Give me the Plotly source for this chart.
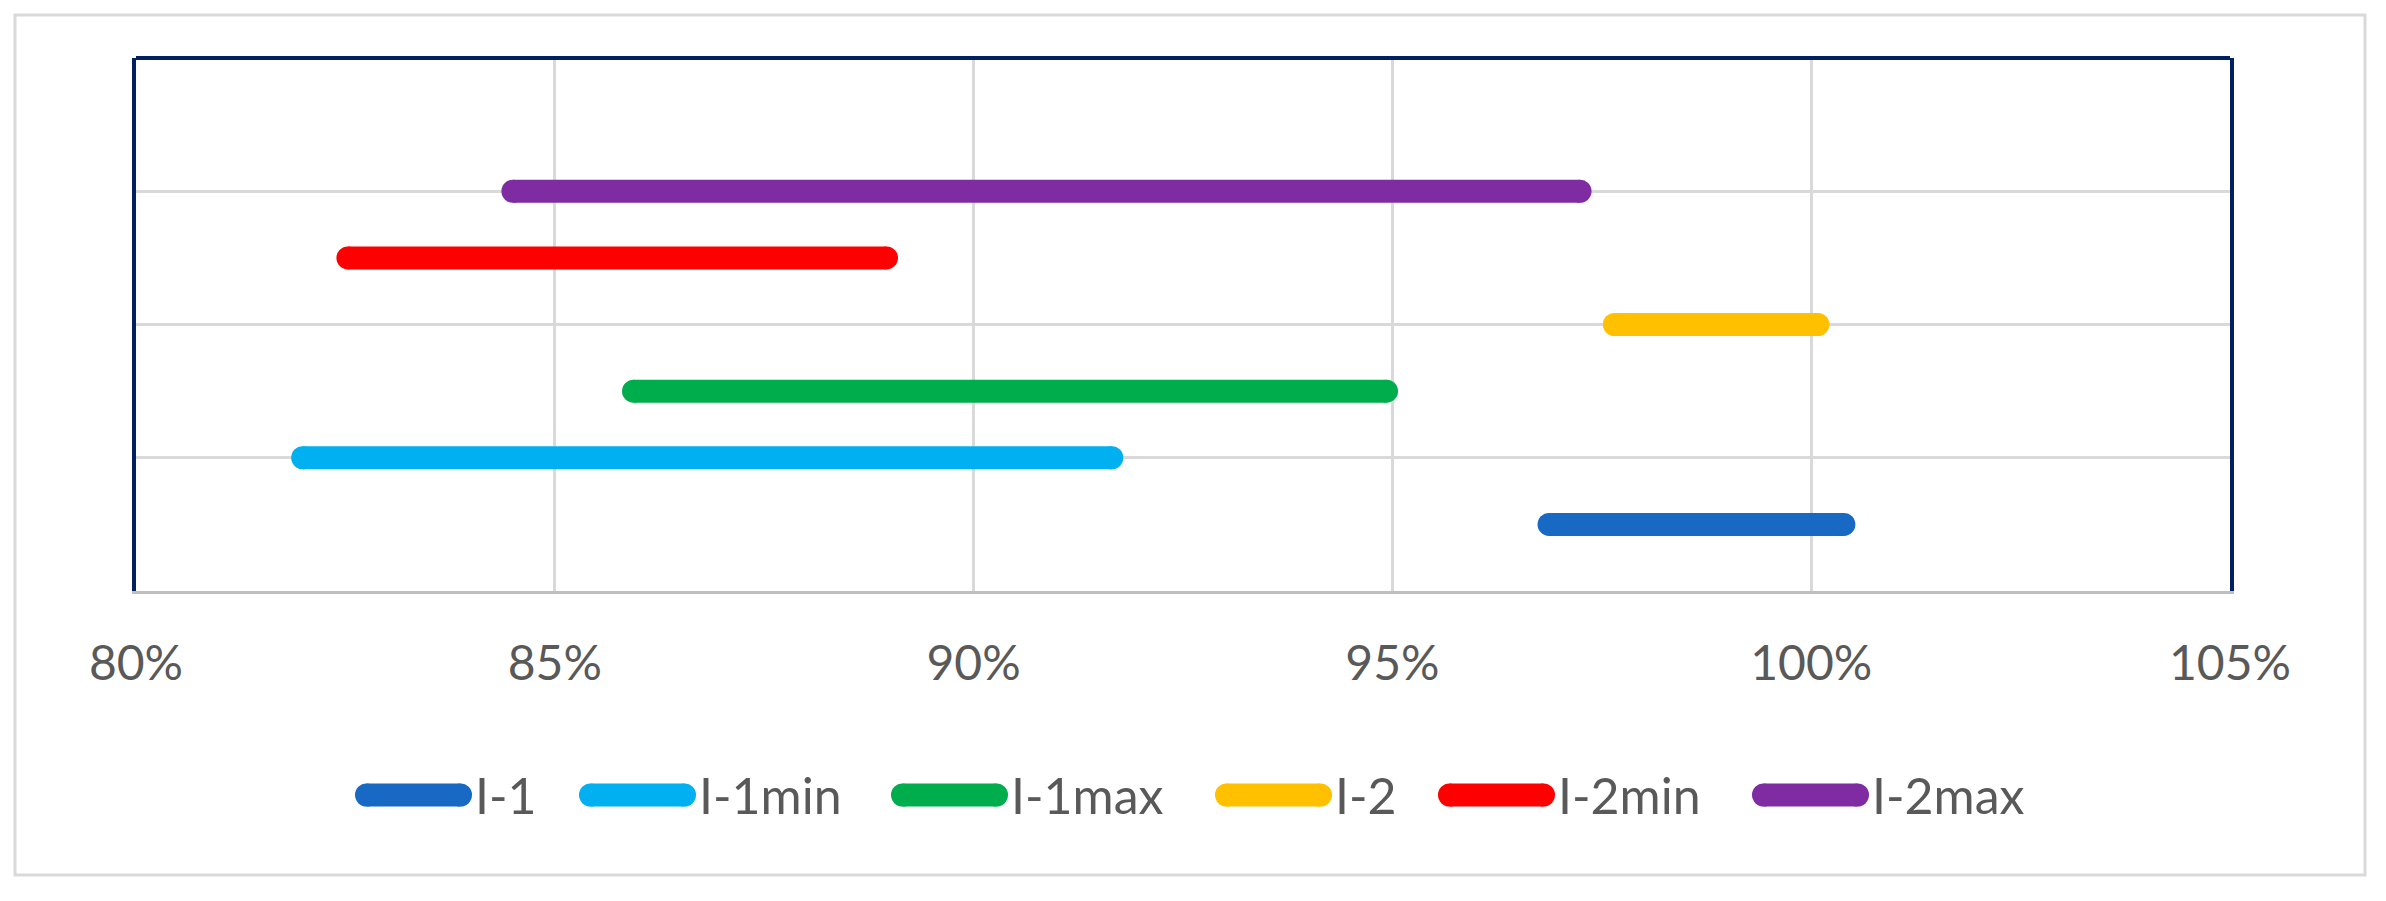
import plotly.graph_objects as go

# series: start / end of each range (fraction), and its row on the hidden y axis
series = ["I-1", "I-1min", "I-1max", "I-2", "I-2min", "I-2max"]
x_start = [0.9687, 0.8199, 0.8594, 0.9765, 0.8253, 0.8450]
x_end = [1.0039, 0.9165, 0.9493, 1.0008, 0.8896, 0.9724]
y_row = [0.5, 1.0, 1.5, 2.0, 2.5, 3.0]
colors = ["#1769C4", "#00B0F0", "#00AD4C", "#FFC000", "#FF0000", "#7F2CA2"]

W, H = 2378, 893          # page minus the 8px body margin
PL, PR, PT, PB = 128, 2222, 50, 583   # plot area in pixels

# legend layout (pixel positions of each swatch's left edge)
legend_left = [347, 571, 883, 1207, 1430, 1744]
legend_y = 787
swatch_w, swatch_h = 117, 23

fig = go.Figure()

for name, x0, x1, y, c in zip(series, x_start, x_end, y_row, colors):
    fig.add_trace(go.Scatter(
        x=[x0, x1], y=[y, y], name=name,
        mode="lines+markers",
        line=dict(color=c, width=23),
        marker=dict(color=c, size=23, line=dict(width=0)),
        hoverinfo="skip", showlegend=False,
    ))

# hand-drawn legend on an overlay axis measured in pixels
for name, lx, c in zip(series, legend_left, colors):
    r = swatch_h / 2
    fig.add_trace(go.Scatter(
        x=[lx + r, lx + swatch_w - r], y=[legend_y, legend_y],
        xaxis="x2", yaxis="y2", mode="lines+markers",
        line=dict(color=c, width=swatch_h),
        marker=dict(color=c, size=swatch_h, line=dict(width=0)),
        hoverinfo="skip", showlegend=False,
    ))
    fig.add_annotation(
        x=lx + swatch_w + 1, y=legend_y, xref="x2", yref="y2",
        text=name, showarrow=False, xanchor="left", yanchor="middle",
        font=dict(family="Lato", size=50, color="#595959"),
    )

tick_font = dict(family="Lato", size=48, color="#595959")

fig.update_layout(
    width=W, height=H, autosize=False,
    margin=dict(l=0, r=0, t=0, b=0, pad=0),
    plot_bgcolor="rgba(0,0,0,0)", paper_bgcolor="white",
    showlegend=False,
    xaxis=dict(
        domain=[PL / W, PR / W], automargin=False,
        range=[0.80, 1.05], dtick=0.05, tickformat=".0%",
        showgrid=True, gridcolor="#D9D9D9", gridwidth=2.5,
        zeroline=False, showline=True, linecolor="#BFBFBF", linewidth=3,
        ticks="outside", ticklen=28, tickcolor="rgba(0,0,0,0)",
        tickfont=tick_font, fixedrange=True,
    ),
    yaxis=dict(
        domain=[(H - PB) / H, (H - PT) / H], automargin=False,
        range=[0, 4], dtick=1, showticklabels=False,
        showgrid=True, gridcolor="#D9D9D9", gridwidth=2.5,
        zeroline=False, showline=True, linecolor="#002060", linewidth=4,
        mirror=True, fixedrange=True,
    ),
    xaxis2=dict(domain=[0, 1], range=[0, W], anchor="y2", visible=False,
                automargin=False, fixedrange=True),
    yaxis2=dict(domain=[0, 1], range=[H, 0], anchor="x2", visible=False,
                automargin=False, fixedrange=True),
)

# top edge of the plot area
fig.add_shape(type="line", xref="x domain", yref="y domain",
              x0=0, x1=1, y0=1, y1=1, line=dict(color="#002060", width=4))
# outer chart border
fig.add_shape(type="rect", xref="x2", yref="y2", x0=7, x1=2357, y0=7, y1=867,
              line=dict(color="#D9D9D9", width=3), layer="below")

fig.write_html("out.html")
